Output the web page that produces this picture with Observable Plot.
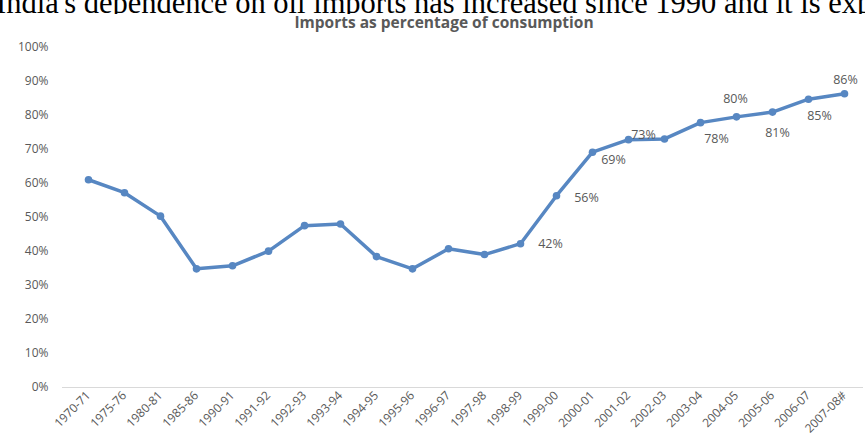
<!DOCTYPE html>
<html>
<head>
<meta charset="utf-8">
<script src="https://cdn.jsdelivr.net/npm/d3@7"></script>
<script src="https://cdn.jsdelivr.net/npm/@observablehq/plot@0.6"></script>
<style>
  html, body { margin: 0; padding: 0; background: #fff; }
  #wrap { width: 865px; height: 437px; overflow: hidden; position: relative; }
  #big { position: relative; width: 865px; height: 14px; overflow: hidden; }
  #bigText { position: absolute; left: -4px; top: -7px; white-space: nowrap;
         font-family: "Liberation Serif", "DejaVu Serif", serif; font-size: 30.5px; color: #000; line-height: 20px; }
  #sub { position: relative; width: 865px; height: 16px; overflow: visible; }
  #subText { position: absolute; left: 0; width: 888px; top: 0px; text-align: center;
         font-family: "Open Sans", Lato, sans-serif; font-weight: bold; font-size: 15.5px; color: #595959; line-height: 16px; }
  svg { display: block; }
</style>
</head>
<body>
<div id="wrap">
  <div id="big"><div id="bigText"></div></div>
  <div id="sub"><div id="subText"></div></div>
  <div id="chart"></div>
</div>
<script>
const headline = "India's dependence on oil imports has increased since 1990 and it is expected to increase further";
const subtitle = "Imports as percentage of consumption";

const periods = ["1970-71","1975-76","1980-81","1985-86","1990-91","1991-92","1992-93","1993-94",
  "1994-95","1995-96","1996-97","1997-98","1998-99","1999-00","2000-01","2001-02","2002-03",
  "2003-04","2004-05","2005-06","2006-07","2007-08#"];
const importShare = [61.1, 57.3, 50.4, 34.9, 35.8, 40.1, 47.6, 48.1, 38.5, 34.9, 40.8, 39.1,
  42.3, 56.4, 69.2, 72.9, 73.1, 77.9, 79.6, 81.0, 84.8, 86.4];

const labelPeriods = ["1998-99","1999-00","2000-01","2001-02","2003-04","2004-05","2005-06","2006-07","2007-08#"];
const labelTexts = ["42%","56%","69%","73%","78%","80%","81%","85%","86%"];

const yTicks = [0,10,20,30,40,50,60,70,80,90,100];

document.getElementById("bigText").textContent = headline;
document.getElementById("subText").textContent = subtitle;

const data = periods.map((p, i) => ({period: p, value: importShare[i]}));
const valueOf = Object.fromEntries(data.map(d => [d.period, d.value]));
const labels = labelPeriods.map((p, i) => ({period: p, value: valueOf[p], text: labelTexts[i]}));

const font = "'Open Sans', Lato, sans-serif";
const lineColor = "#5787c2";
const labelColor = "#595959";

// label placement (offsets are styling, not data)
const place = {
  "1998-99": [30, 0], "1999-00": [30, 2], "2000-01": [21, 8], "2001-02": [15, -5],
  "2003-04": [16, 16], "2004-05": [-1, -18], "2005-06": [5, 21], "2006-07": [11, 17],
  "2007-08#": [1, -14]
};
const labelMarks = labels.map(l => Plot.text([l], {
  x: "period", y: "value", text: "text",
  dx: place[l.period][0], dy: place[l.period][1],
  fill: labelColor, fontSize: 12.5, fontFamily: font
}));

const chart = Plot.plot({
  width: 865,
  height: 407,
  marginTop: 17,
  marginBottom: 50,
  marginLeft: 82,
  marginRight: 16,
  style: {fontFamily: font, fontSize: "12px", color: labelColor, background: "#fff"},
  x: {type: "point", domain: periods, padding: 0},
  y: {domain: [0, 100]},
  marks: [
    Plot.ruleY([0], {stroke: "#d9d9d9", strokeWidth: 1.2, insetLeft: -20, insetRight: -14}),
    Plot.axisY({ticks: yTicks, tickSize: 0, tickPadding: 34, tickFormat: d => d + "%",
      fill: labelColor, fontSize: 12, label: null}),
    Plot.axisX({tickSize: 0, tickPadding: 6, tickRotate: -45, fill: labelColor, fontSize: 12, label: null}),
    Plot.line(data, {x: "period", y: "value", stroke: lineColor, strokeWidth: 3.5, strokeLinejoin: "round"}),
    Plot.dot(data, {x: "period", y: "value", r: 3.8, fill: lineColor, stroke: null}),
    ...labelMarks
  ]
});
document.getElementById("chart").appendChild(chart);
</script>
</body>
</html>
